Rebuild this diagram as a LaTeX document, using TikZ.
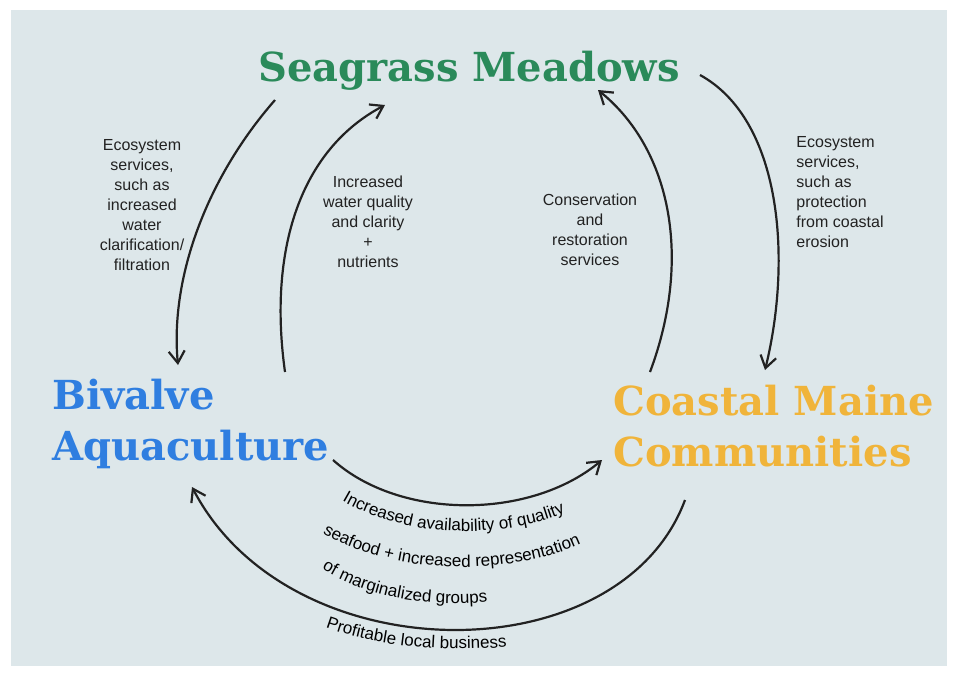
\documentclass[tikz,border=0pt]{standalone}
\usepackage{fontspec}
\usetikzlibrary{arrows.meta,decorations.text}
\newfontfamily\titlefont{DejaVu Serif}
\newfontfamily\notefont{Liberation Sans}
\definecolor{paper}{HTML}{DDE7EA}
\definecolor{seagreen}{HTML}{2A8A5A}
\definecolor{bivblue}{HTML}{2F7EE0}
\definecolor{maineorange}{HTML}{F0B43A}
\definecolor{ink}{HTML}{222222}
\newcommand{\notesize}{\notefont\fontsize{8}{10}\selectfont}
\newcommand{\arcsize}{\notefont\fontsize{8.5}{10}\selectfont}
\begin{document}
\begin{tikzpicture}[x=0.5pt,y=-0.5pt,
        title/.style={font=\titlefont\bfseries\fontsize{20}{25.5}\selectfont, inner sep=0pt},
        note/.style={font=\notesize, text=ink, align=center, inner sep=0pt},
        flow/.style={draw=ink, line width=1.1pt, -{Straight Barb[length=6pt,width=8pt]}}]
        \useasboundingbox (0,0) rectangle (958,676);
        \fill[paper] (11,10) rectangle (947,666);

        \node[title, text=seagreen, anchor=base] (sea) at (469,81) {Seagrass Meadows};
        \node[title, text=bivblue, anchor=north west, align=left] (biv) at (52,379) {Bivalve\\Aquaculture};
        \node[title, text=maineorange, anchor=north west, align=left] (cmc) at (613,385) {Coastal Maine\\Communities};

        \node[note] (filt) at (142,205) {Ecosystem\\services,\\such as\\increased\\water\\clarification/\\filtration};
        \node[note] (clar) at (368,222) {Increased\\water quality\\and clarity\\+\\nutrients};
        \node[note] (rest) at (590,230) {Conservation\\and\\restoration\\services};
        \node[note, align=left] (eros) at (840,192) {Ecosystem\\services,\\such as\\protection\\from coastal\\erosion};

        \coordinate (s1) at (275,100);
        \coordinate (b1) at (178,365);
        \coordinate (b2) at (285,372);
        \coordinate (s2) at (385,105);
        \coordinate (c3) at (650,372);
        \coordinate (s3) at (598,90);
        \coordinate (s4) at (700,75);
        \coordinate (c4) at (765,370);
        \coordinate (b5) at (333,460);
        \coordinate (c5) at (602,460);
        \coordinate (c6) at (685,500);
        \coordinate (b6) at (192,487);

        \draw[flow] (s1) .. controls (205,180) and (170,280) .. (b1);
        \draw[flow] (b2) .. controls (268,250) and (300,150) .. (s2);
        \draw[flow] (c3) .. controls (692,260) and (672,150) .. (s3);
        \draw[flow] (s4) .. controls (782,120) and (792,260) .. (c4);
        \draw[flow] (b5) .. controls (400,520) and (530,520) .. (c5);
        \draw[flow] (c6) .. controls (620,675) and (290,675) .. (b6);

        \path[decorate, decoration={text along path, text align=center,
            text={|\arcsize|Increased availability of quality}}]
            (312,478) .. controls (382,546) and (528,546) .. (598,494);
        \path[decorate, decoration={text along path, text align=center,
            text={|\arcsize|seafood + increased representation}}]
            (292,510) .. controls (368,585) and (542,582) .. (614,524);
        \path[decorate, decoration={text along path, text align=center,
            text={|\arcsize|of marginalized groups}}]
            (300,552) .. controls (352,600) and (440,612) .. (515,598);
        \path[decorate, decoration={text along path, text align=center,
            text={|\arcsize|Profitable local business}}]
            (282,606) .. controls (340,645) and (450,660) .. (555,640);
\end{tikzpicture}
\end{document}
